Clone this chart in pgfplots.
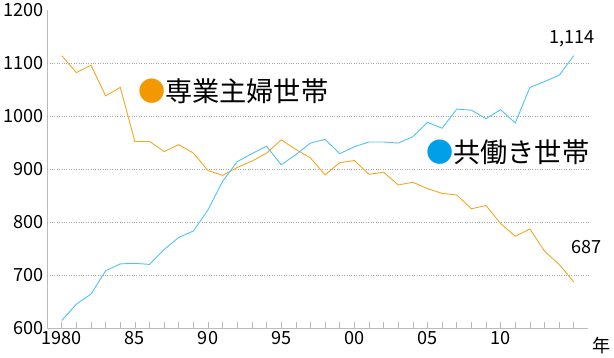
\documentclass[border=0pt]{standalone}
\usepackage{fontspec}
\setmainfont{Noto Sans CJK JP}
\usepackage{pgfplots}
\pgfplotsset{compat=1.18}
\definecolor{orline}{HTML}{F5A623}
\definecolor{ordot}{HTML}{F39800}
\definecolor{blline}{HTML}{4FC3F7}
\definecolor{bldot}{HTML}{009FE8}
\definecolor{axgray}{HTML}{BBBBBB}
\begin{document}
\begin{tikzpicture}
\begin{axis}[
  scale only axis, width=538pt, height=316pt,
  xmin=1979, xmax=2016, ymin=600, ymax=1200,
  axis lines=left, axis line style={draw=axgray, line width=0.8pt, -},
  xtick={1980,1985,...,2010}, xticklabels={1980,85,90,95,00,05,10},
  minor xtick={1980,...,2015},
  tick align=inside, major tick length=6pt, minor tick length=6pt,
  xtick style={draw=axgray, line width=0.6pt},
  ytick={600,700,...,1200}, ytick style={draw=none},
  extra y ticks={700,800,900,1000,1100}, extra y tick labels={},
  extra y tick style={grid=major, major grid style={draw=gray!70, dotted, line width=0.6pt}},
  tick label style={font=\fontsize{18}{20}\selectfont, text=black},
  /pgf/number format/assume math mode=true,
  /pgf/number format/1000 sep={},
  clip=false,
]
\addplot[orline, line width=0.9pt] coordinates {
(1980,1114)(1981,1082)(1982,1096)(1983,1038)(1984,1054)(1985,952)(1986,952)(1987,933)(1988,946)(1989,930)
(1990,897)(1991,888)(1992,903)(1993,915)(1994,930)(1995,955)(1996,937)(1997,921)(1998,889)(1999,912)
(2000,916)(2001,890)(2002,894)(2003,870)(2004,875)(2005,863)(2006,854)(2007,851)(2008,825)(2009,831)
(2010,797)(2011,773)(2012,787)(2013,745)(2014,720)(2015,687)};
\addplot[blline, line width=0.9pt] coordinates {
(1980,614)(1981,645)(1982,664)(1983,708)(1984,721)(1985,722)(1986,720)(1987,748)(1988,771)(1989,783)
(1990,823)(1991,877)(1992,914)(1993,929)(1994,943)(1995,908)(1996,927)(1997,949)(1998,956)(1999,929)
(2000,942)(2001,951)(2002,951)(2003,949)(2004,961)(2005,988)(2006,977)(2007,1013)(2008,1011)(2009,995)
(2010,1012)(2011,987)(2012,1054)(2013,1065)(2014,1077)(2015,1114)};
\node[anchor=west, inner sep=0pt, font=\fontsize{27}{29}\selectfont] at (axis cs:1985.2,1046) {\textcolor{ordot}{●}専業主婦世帯};
\node[anchor=west, inner sep=0pt, font=\fontsize{27}{29}\selectfont] at (axis cs:2004.9,932) {\textcolor{bldot}{●}共働き世帯};
\node[font=\fontsize{18}{20}\selectfont] at (axis cs:2014.9,1145) {1,114};
\node[font=\fontsize{18}{20}\selectfont] at (axis cs:2015.9,753) {687};
\node[font=\fontsize{18}{20}\selectfont] at (axis cs:2016.9,566) {年};
\end{axis}
\end{tikzpicture}
\end{document}
